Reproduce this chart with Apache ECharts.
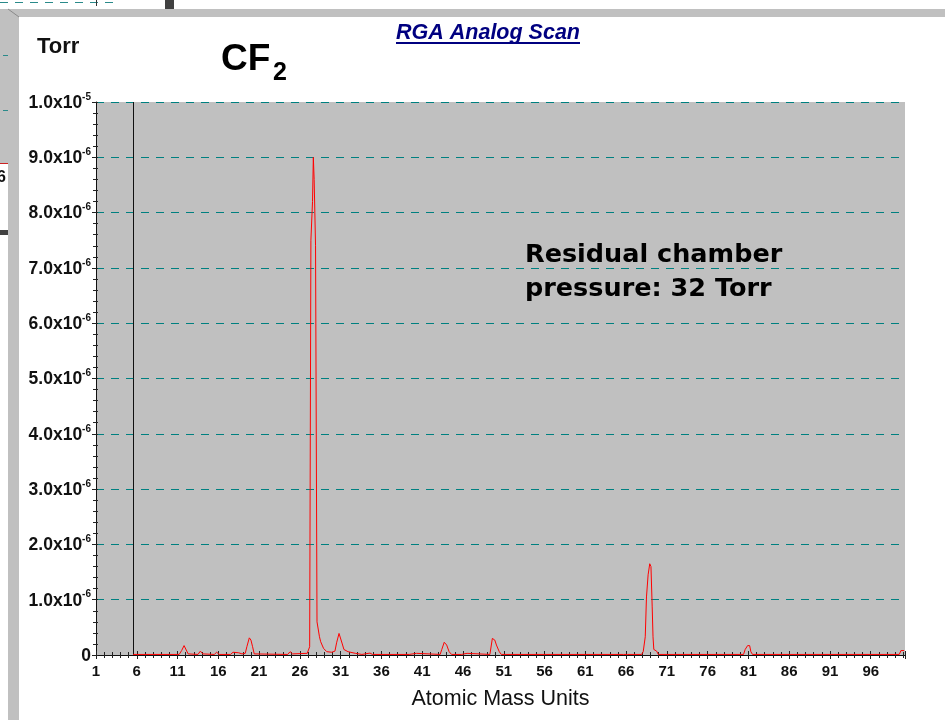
<!DOCTYPE html>
<html>
<head>
<meta charset="utf-8">
<script src="https://cdn.jsdelivr.net/npm/echarts@6/dist/echarts.min.js"></script>
<style>
  html, body { margin: 0; padding: 0; background: #ffffff; }
  #chart { width: 945px; height: 720px; }
</style>
</head>
<body>
<div id="chart"></div>
<script>
// RGA analog scan of CF2: partial pressure (Torr) vs atomic mass units
const amu = [
  5.55, 11.2, 11.5, 11.8, 12.0, 12.3, 13.5, 13.8, 14.1, 15.5, 15.8, 16.1,
  17.5, 17.8, 18.5, 18.9, 19.3, 19.5, 19.8, 20.0, 20.2, 20.4, 24.5, 24.8, 25.1,
  26.9, 27.2, 27.35, 27.55, 27.65, 27.75, 27.92, 28.1, 28.4, 28.55, 28.9, 29.3,
  29.9, 30.3, 30.5, 30.8, 31.0, 31.2, 31.4, 31.9, 32.8, 33.6, 33.8, 34.6, 34.9,
  39.4, 39.6, 40.3, 40.5, 43.2, 43.4, 43.7, 44.0, 44.3, 44.6, 45.8, 45.9, 46.5, 46.7,
  49.3, 49.6, 49.9, 50.1, 50.45, 50.7, 65.7, 65.9, 66.2,
  67.9, 68.1, 68.35, 68.5, 68.7, 68.9, 69.05, 69.2, 69.3, 69.4, 69.75, 69.95,
  80.4, 80.6, 80.9, 81.15, 81.3, 81.5, 99.5, 99.7, 100.1
];
const torr = [
  1e-8, 1e-8, 8e-8, 1.7e-7, 1.5e-7, 2e-8, 1e-8, 7e-8, 2e-8, 1e-8, 5e-8, 1e-8,
  1e-8, 5e-8, 4e-8, 2e-8, 3e-8, 1.5e-7, 3.1e-7, 2.7e-7, 1.5e-7, 2e-8, 1e-8, 6e-8, 2e-8,
  3e-8, 1.5e-7, 7.5e-6, 8.2e-6, 9.0e-6, 8.6e-6, 7.4e-6, 6e-7, 3.3e-7, 2.4e-7, 1.2e-7, 6e-8,
  5e-8, 7e-8, 2.2e-7, 3.9e-7, 3.9e-7, 2e-7, 1e-7, 6e-8, 3e-8, 1e-8, 3.5e-8, 3.5e-8, 1e-8,
  1e-8, 3e-8, 3e-8, 1e-8, 1e-8, 1e-7, 2.3e-7, 1.8e-7, 6e-8, 1e-8, 1e-8, 3e-8, 3e-8, 1e-8,
  1e-8, 3e-7, 2.7e-7, 1.8e-7, 6e-8, 1e-8, 1e-8, 4e-8, 1e-8,
  1e-8, 6e-8, 3.3e-7, 1.05e-6, 1.45e-6, 1.65e-6, 1.6e-6, 8.7e-7, 3.3e-7, 1e-7, 7e-8, 1e-8,
  1e-8, 1e-7, 1.7e-7, 1.7e-7, 6e-8, 1e-8, 1e-8, 8e-8, 8e-8
];

// scan cursor position (amu)
const cursorAmu = [5.55];

// axis ticks
const xTickLabels = [1, 6, 11, 16, 21, 26, 31, 36, 41, 46, 51, 56, 61, 66, 71, 76, 81, 86, 91, 96];
const yTickValues = [0, 1e-6, 2e-6, 3e-6, 4e-6, 5e-6, 6e-6, 7e-6, 8e-6, 9e-6, 1e-5];
const yTickLabels = [
  ['0', ''], ['1.0x10', '-6'], ['2.0x10', '-6'], ['3.0x10', '-6'], ['4.0x10', '-6'],
  ['5.0x10', '-6'], ['6.0x10', '-6'], ['7.0x10', '-6'], ['8.0x10', '-6'], ['9.0x10', '-6'],
  ['1.0x10', '-5']
];

const ARIAL = '"Liberation Sans", Arial, sans-serif';
const GRID = { left: 96, right: 40, top: 102, bottom: 65 };
const X_MIN = 1, X_MAX = 100.2, X_STEP = 5;
const Y_MAX = 1e-5, Y_STEP = 1e-6;

function yLabel(v) {
  let best = 0;
  yTickValues.forEach((t, i) => { if (Math.abs(t - v) < Math.abs(yTickValues[best] - v)) best = i; });
  const [m, e] = yTickLabels[best];
  return e ? '{m|' + m + '}{e|' + e + '}' : '{m|' + m + '}';
}
function xLabel(v) {
  const r = Math.round(v);
  return (Math.abs(v - r) < 1e-6 && xTickLabels.indexOf(r) >= 0) ? String(r) : '';
}

const chart = echarts.init(document.getElementById('chart'), null, { renderer: 'canvas' });

const tickColor = '#222';
const option = {
  animation: false,
  backgroundColor: '#ffffff',
  grid: Object.assign({ backgroundColor: '#c0c0c0', show: true, borderWidth: 0 }, GRID),
  xAxis: [
    {
      type: 'value', min: X_MIN, max: X_MAX, interval: X_STEP,
      position: 'bottom',
      name: 'Atomic Mass Units', nameLocation: 'middle', nameGap: 33,
      nameTextStyle: { fontFamily: ARIAL, fontSize: 21.5, color: '#111' },
      axisLine: { show: true, onZero: false, lineStyle: { color: '#111', width: 1 } },
      axisTick: { show: true, inside: false, length: 4, lineStyle: { color: tickColor } },
      minorTick: { show: true, splitNumber: 5, length: 3, lineStyle: { color: tickColor } },
      axisLabel: {
        formatter: xLabel, showMaxLabel: false, margin: 9,
        fontFamily: ARIAL, fontSize: 15, fontWeight: 'bold', color: '#111'
      },
      splitLine: { show: false }
    },
    {
      type: 'value', min: X_MIN, max: X_MAX, interval: X_STEP,
      position: 'bottom',
      axisLine: { show: false, onZero: false },
      axisTick: { show: true, inside: true, length: 4, lineStyle: { color: tickColor } },
      minorTick: { show: true, splitNumber: 5, length: 3, lineStyle: { color: tickColor } },
      axisLabel: { show: false },
      splitLine: { show: false }
    }
  ],
  yAxis: [
    {
      type: 'value', min: 0, max: Y_MAX, interval: Y_STEP,
      axisLine: { show: true, lineStyle: { color: '#111', width: 1 } },
      axisTick: { show: true, inside: false, length: 4, lineStyle: { color: tickColor } },
      minorTick: { show: true, splitNumber: 5, length: 3, lineStyle: { color: tickColor } },
      axisLabel: {
        formatter: yLabel, margin: 5,
        rich: {
          m: { fontFamily: ARIAL, fontSize: 17.5, fontWeight: 'bold', color: '#111', lineHeight: 20, verticalAlign: 'bottom' },
          e: { fontFamily: ARIAL, fontSize: 10, fontWeight: 'bold', color: '#111', lineHeight: 12, verticalAlign: 'top' }
        }
      },
      splitLine: { show: true, lineStyle: { color: '#008080', width: 1, type: [8, 7] } }
    },
    {
      type: 'value', min: 0, max: Y_MAX, interval: Y_STEP, position: 'left',
      axisLine: { show: false },
      axisTick: { show: true, inside: true, length: 2, lineStyle: { color: tickColor } },
      minorTick: { show: true, splitNumber: 5, length: 2, lineStyle: { color: tickColor } },
      axisLabel: { show: false },
      splitLine: { show: false }
    }
  ],
  series: [
    {
      type: 'line',
      name: 'CF2',
      data: amu.map((a, i) => [a, torr[i]]),
      showSymbol: false,
      symbol: 'none',
      lineStyle: { color: '#ff0000', width: 1 },
      z: 5,
      markLine: {
        silent: true, symbol: 'none', animation: false,
        label: { show: false },
        lineStyle: { color: '#111', width: 1, type: 'solid' },
        data: cursorAmu.map(v => ({ xAxis: v }))
      }
    }
  ],
  graphic: [
    // window frame
    { type: 'rect', shape: { x: 0, y: 9, width: 945, height: 8 }, style: { fill: '#c0c0c0' }, silent: true },
    { type: 'rect', shape: { x: 0, y: 9, width: 19, height: 155 }, style: { fill: '#c0c0c0' }, silent: true },
    { type: 'rect', shape: { x: 8, y: 9, width: 11, height: 711 }, style: { fill: '#c0c0c0' }, silent: true },
    { type: 'line', shape: { x1: 8, y1: 9, x2: 19, y2: 17 }, style: { stroke: '#8a8a8a', lineWidth: 1 }, silent: true },
    { type: 'line', shape: { x1: 0, y1: 2.5, x2: 115, y2: 2.5 }, style: { stroke: '#2a8a8a', lineWidth: 1, lineDash: [8, 7] }, silent: true },
    { type: 'line', shape: { x1: 96.5, y1: 0, x2: 96.5, y2: 6 }, style: { stroke: '#333', lineWidth: 1 }, silent: true },
    { type: 'rect', shape: { x: 165, y: 0, width: 9, height: 9 }, style: { fill: '#404040' }, silent: true },
    { type: 'line', shape: { x1: 3, y1: 55.5, x2: 8, y2: 55.5 }, style: { stroke: '#2a8a8a', lineWidth: 1 }, silent: true },
    { type: 'line', shape: { x1: 3, y1: 110.5, x2: 8, y2: 110.5 }, style: { stroke: '#2a8a8a', lineWidth: 1 }, silent: true },
    { type: 'line', shape: { x1: 0, y1: 163.5, x2: 8, y2: 163.5 }, style: { stroke: '#cc2222', lineWidth: 1 }, silent: true },
    { type: 'rect', shape: { x: 0, y: 230, width: 8, height: 5 }, style: { fill: '#404040' }, silent: true },
    { type: 'text', x: -3, y: 170, style: { text: '6', fontFamily: ARIAL, fontSize: 16, fontWeight: 'bold', fill: '#111' }, silent: true },

    // headings
    { type: 'text', x: 488, y: 33, style: { text: 'RGA Analog Scan', fontFamily: ARIAL, fontSize: 21.5, fontWeight: 'bold', fontStyle: 'italic', fill: '#000080', align: 'center', verticalAlign: 'middle' }, silent: true },
    { type: 'line', shape: { x1: 396, y1: 43, x2: 580, y2: 43 }, style: { stroke: '#000080', lineWidth: 2 }, silent: true },
    { type: 'text', x: 37, y: 47, style: { text: 'Torr', fontFamily: ARIAL, fontSize: 22, fontWeight: 'bold', fill: '#111', verticalAlign: 'middle' }, silent: true },
    { type: 'text', x: 221, y: 78, style: { text: 'CF', fontFamily: ARIAL, fontSize: 37, fontWeight: 'bold', fill: '#000', verticalAlign: 'bottom' }, silent: true },
    { type: 'text', x: 273, y: 86, style: { text: '2', fontFamily: ARIAL, fontSize: 25, fontWeight: 'bold', fill: '#000', verticalAlign: 'bottom' }, silent: true },
    { type: 'text', x: 525, y: 238, style: { text: 'Residual chamber\npressure: 32 Torr', fontFamily: '"DejaVu Sans", Verdana, sans-serif', fontSize: 25.5, fontWeight: 'bold', fill: '#000', lineHeight: 34, verticalAlign: 'top' }, silent: true }
  ]
};

chart.setOption(option);
</script>
</body>
</html>
